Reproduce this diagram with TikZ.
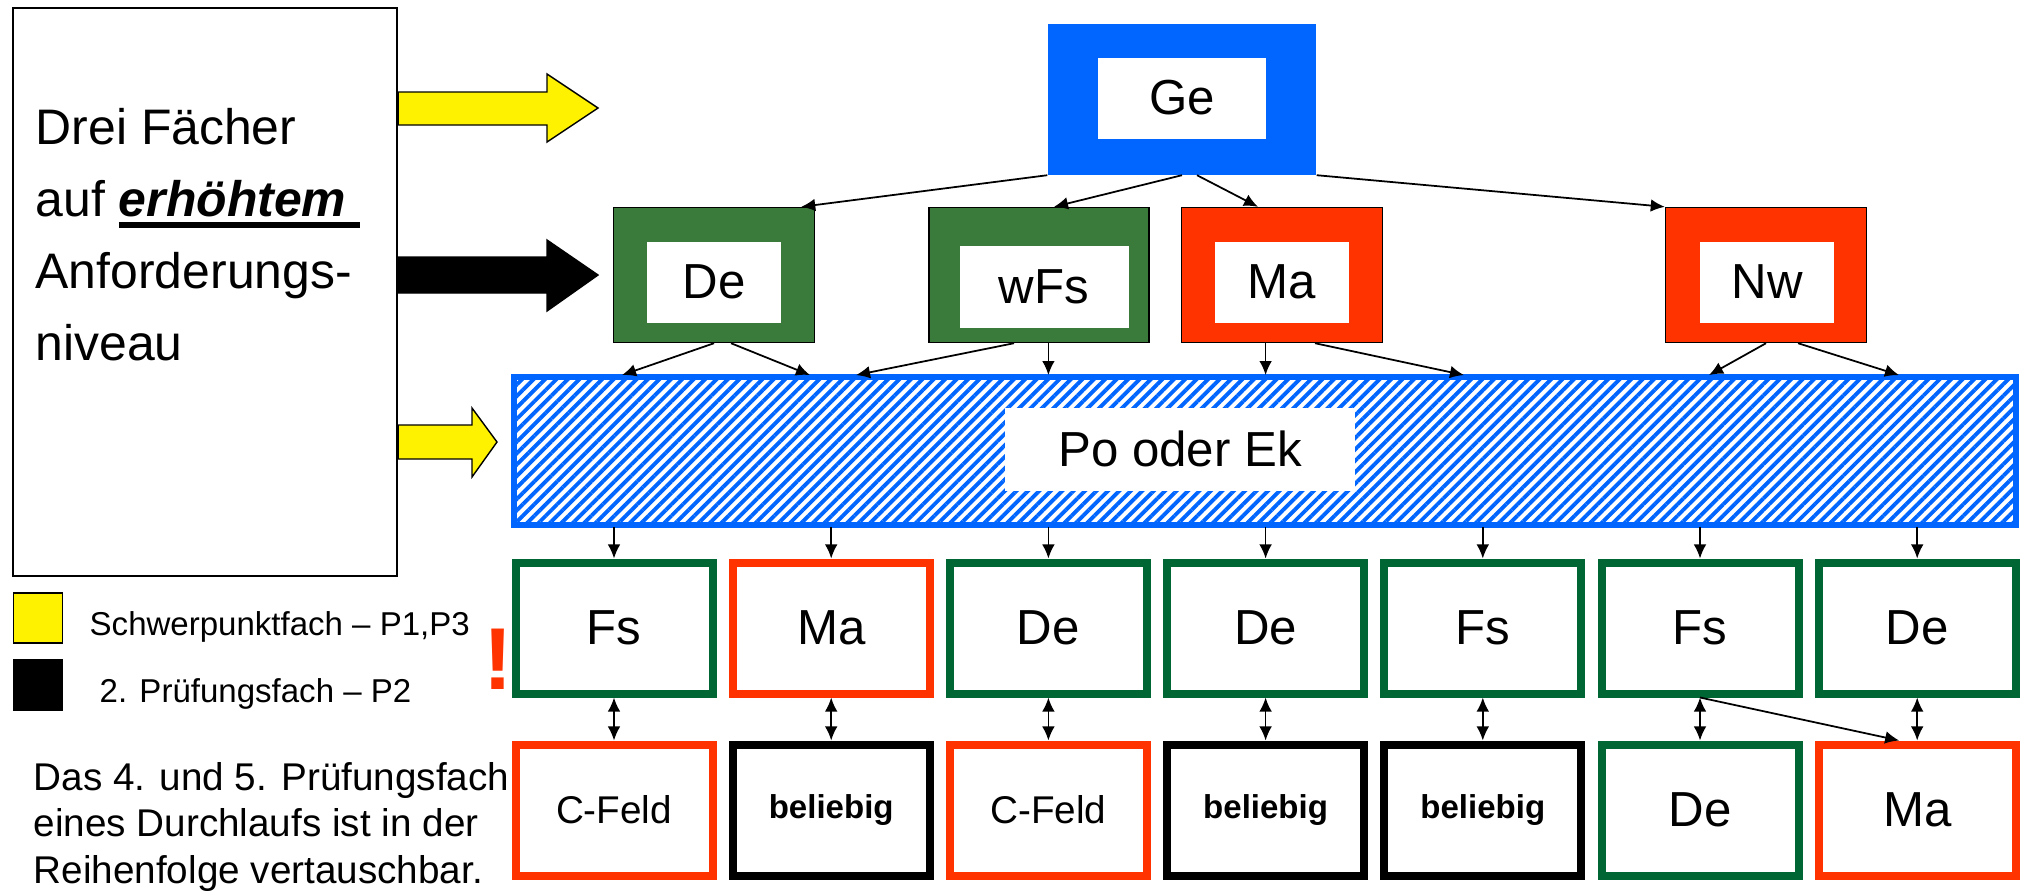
\documentclass[tikz,border=0pt]{standalone}
\usepackage{fontspec}
\setmainfont{Liberation Sans}
\usetikzlibrary{positioning,arrows.meta,patterns.meta}

\definecolor{geblue}{RGB}{0,102,255}
\definecolor{lkgreen}{RGB}{58,122,58}
\definecolor{pgreen}{RGB}{0,102,51}
\definecolor{lkred}{RGB}{255,51,0}

\tikzstyle{outerbox} = [rectangle, draw=black, line width=0.4pt, minimum width=20.1mm, minimum height=13.5mm]
\tikzstyle{innerbox} = [rectangle, fill=white, minimum width=13.4mm, minimum height=8.1mm, text centered, font=\fontsize{14pt}{16pt}\selectfont]
\tikzstyle{subject} = [rectangle, line width=0.8mm, minimum width=19.7mm, minimum height=13.1mm, text centered, font=\fontsize{14pt}{16pt}\selectfont]
\tikzstyle{cfeld} = [subject, draw=lkred, font=\fontsize{11pt}{13pt}\selectfont]
\tikzstyle{free} = [subject, draw=black, font=\bfseries\fontsize{9.4pt}{11pt}\selectfont]
\tikzstyle{blockarrow} = [draw=black, line width=0.4pt]
\tikzstyle{arrow} = [line width=0.5pt,->,>={Latex[length=4pt,width=3.6pt]}]
\tikzstyle{dblarrow} = [arrow,<->]

\newcommand{\thickul}[1]{\setbox0\hbox{#1}\rlap{\rule[-3.2pt]{\wd0}{1.8pt}}\box0}

\begin{document}
\begin{tikzpicture}[x=0.1mm, y=-0.1mm, node distance=21.72mm]
    \useasboundingbox (0,0) rectangle (2025,890);

    % left side
    \node (intro) [rectangle, draw=black, line width=0.6pt, minimum width=38.4mm, minimum height=56.8mm] at (205,292) {};
    \node (introtext) [anchor=base west, align=left, inner sep=0pt, font=\fontsize{14.2pt}{20.4pt}\selectfont] at (35,360) {Drei Fächer\\auf \thickul{\textbf{\textit{erhöhtem}} }\\Anforderungs-\\niveau};

    \draw [blockarrow, fill=yellow] (intro.east |- 0,92) -- (547,92) -- (547,74) -- (598,108) -- (547,142) -- (547,125) -- (intro.east |- 0,125) -- cycle;
    \draw [blockarrow, fill=black] (intro.east |- 0,257) -- (547,257) -- (547,240) -- (598,275) -- (547,311) -- (547,293) -- (intro.east |- 0,293) -- cycle;
    \draw [blockarrow, fill=yellow] (intro.east |- 0,425) -- (472,425) -- (472,408) -- (497,442) -- (472,477) -- (472,459) -- (intro.east |- 0,459) -- cycle;

    % legend
    \node (keyyellow) [rectangle, draw=black, line width=0.4pt, fill=yellow, minimum width=4.9mm, minimum height=5mm] at (38,618) {};
    \node (keyblack) [rectangle, fill=black, minimum width=5mm, minimum height=5.2mm] at (38,685) {};
    \node (keyyellowtext) [anchor=base west, inner sep=0pt, font=\fontsize{9.4pt}{11pt}\selectfont] at (89,635) {Schwerpunktfach – P1,P3};
    \node (keyblacktext) [anchor=base west, inner sep=0pt, font=\fontsize{9.4pt}{11pt}\selectfont] at (99,702) {2. Prüfungsfach – P2};
    \node (warn) [anchor=base, inner sep=0pt, text=lkred, font=\bfseries\fontsize{25pt}{30pt}\selectfont] at (498,689) {!};
    \node (note) [anchor=base west, align=left, inner sep=0pt, font=\fontsize{11pt}{13.2pt}\selectfont] at (33,883) {Das 4. und 5. Prüfungsfach\\eines Durchlaufs ist in der\\Reihenfolge vertauschbar.};

    % top
    \node (ge) [rectangle, fill=geblue, minimum width=26.8mm, minimum height=15.1mm] at (1182,99) {};
    \node (gein) [innerbox, minimum width=16.8mm, minimum height=8.1mm] at (1182,98) {Ge};

    \node (de) [outerbox, fill=lkgreen] at (714,275) {};
    \node (dein) [innerbox] at (714,282) {De};
    \node (wfs) [outerbox, fill=lkgreen, minimum width=22mm] at (1039,275) {};
    \node (wfsin) [innerbox, minimum width=16.9mm, minimum height=8.2mm] at (1044,287) {wFs};
    \node (ma) [outerbox, fill=lkred] at (1282,275) {};
    \node (main) [innerbox] at (1282,282) {Ma};
    \node (nw) [outerbox, fill=lkred] at (1766,275) {};
    \node (nwin) [innerbox] at (1767,282) {Nw};

    \node (hatch) [rectangle, draw=geblue, line width=0.6mm, pattern={Lines[angle=45,distance=2.3pt,line width=1.1pt]}, pattern color=geblue, minimum width=150.2mm, minimum height=14.8mm] at (1265,451) {};
    \node (poek) [rectangle, fill=white, minimum width=35mm, minimum height=8.3mm, font=\fontsize{14pt}{16pt}\selectfont] at (1180,449) {Po oder Ek};

    % subjects
    \node (fs1) [subject, draw=pgreen] at (614,628) {Fs};
    \node (ma2) [subject, draw=lkred, right of=fs1] {Ma};
    \node (de3) [subject, draw=pgreen, right of=ma2] {De};
    \node (de4) [subject, draw=pgreen, right of=de3] {De};
    \node (fs5) [subject, draw=pgreen, right of=de4] {Fs};
    \node (fs6) [subject, draw=pgreen, right of=fs5] {Fs};
    \node (de7) [subject, draw=pgreen, right of=fs6] {De};

    \begin{scope}[node distance=18.2mm]
    \node (cfeld1) [cfeld, below of=fs1] {C-Feld};
    \node (bel2) [free, below of=ma2] {beliebig};
    \node (cfeld3) [cfeld, below of=de3] {C-Feld};
    \node (bel4) [free, below of=de4] {beliebig};
    \node (bel5) [free, below of=fs5] {beliebig};
    \node (de6) [subject, draw=pgreen, below of=fs6] {De};
    \node (ma7) [subject, draw=lkred, below of=de7] {Ma};
    \end{scope}

    \draw [arrow] (ge.south west) -- ([xshift=-1.4mm]de.north east);
    \draw [arrow] (ge.south) -- ([xshift=1.5mm]wfs.north);
    \draw [arrow] ([xshift=1.5mm]ge.south) -- ([xshift=-2.4mm]ma.north);
    \draw [arrow] (ge.south east) -- (nw.north west);

    \draw [arrow] (de.south) -- (hatch.north -| 622,0);
    \draw [arrow] ([xshift=1.7mm]de.south) -- (hatch.north -| 810,0);
    \draw [arrow] ([xshift=-2.5mm]wfs.south) -- (hatch.north -| 856,0);
    \draw [arrow] (wfs.south -| de3) -- (hatch.north -| de3);
    \draw [arrow] (ma.south -| de4) -- (hatch.north -| de4);
    \draw [arrow] ([xshift=3.3mm]ma.south) -- (hatch.north -| 1464,0);
    \draw [arrow] (nw.south) -- (hatch.north -| 1709,0);
    \draw [arrow] ([xshift=3.2mm]nw.south) -- (hatch.north -| 1899,0);

    \draw [arrow] (hatch.south -| fs1) -- (fs1.north);
    \draw [arrow] (hatch.south -| ma2) -- (ma2.north);
    \draw [arrow] (hatch.south -| de3) -- (de3.north);
    \draw [arrow] (hatch.south -| de4) -- (de4.north);
    \draw [arrow] (hatch.south -| fs5) -- (fs5.north);
    \draw [arrow] (hatch.south -| fs6) -- (fs6.north);
    \draw [arrow] (hatch.south -| de7) -- (de7.north);

    \draw [dblarrow] (fs1) -- (cfeld1);
    \draw [dblarrow] (ma2) -- (bel2);
    \draw [dblarrow] (de3) -- (cfeld3);
    \draw [dblarrow] (de4) -- (bel4);
    \draw [dblarrow] (fs5) -- (bel5);
    \draw [dblarrow] (fs6) -- (de6);
    \draw [dblarrow] (de7) -- (ma7);
    \draw [arrow] (fs6.south) -- ([xshift=-1.8mm]ma7.north);

\end{tikzpicture}
\end{document}
